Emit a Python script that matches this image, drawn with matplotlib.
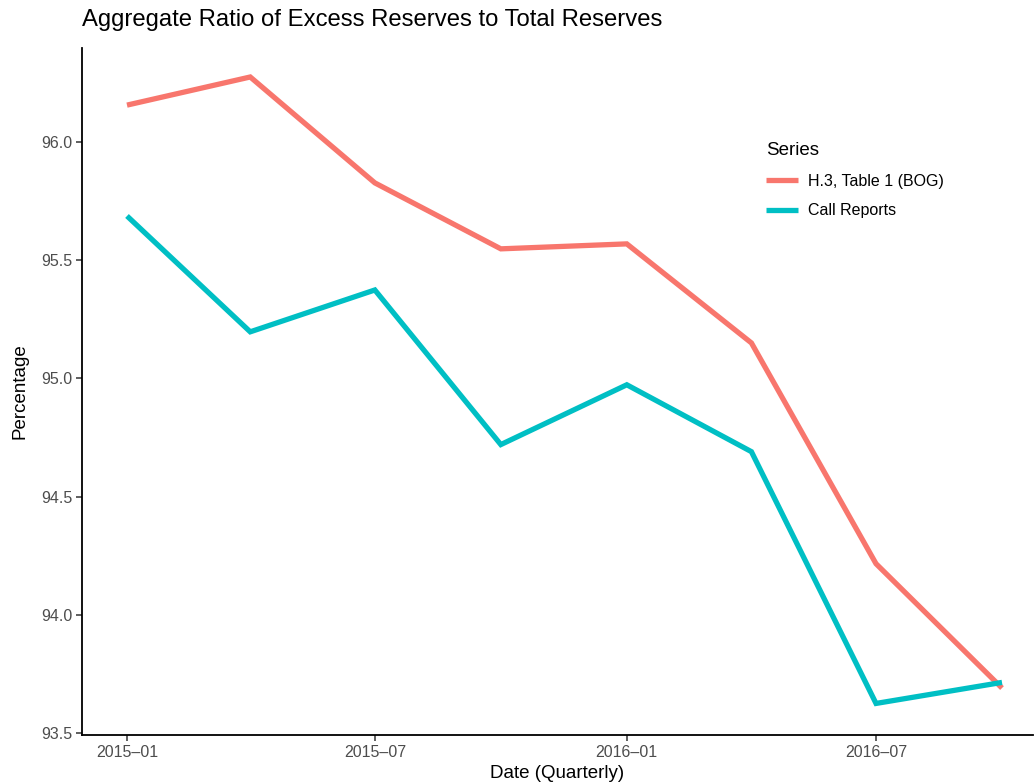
import matplotlib
matplotlib.use("Agg")
import matplotlib.pyplot as plt
import matplotlib.dates as mdates
import numpy as np
import datetime as dt

plt.rcParams['font.family'] = ['Liberation Sans', 'DejaVu Sans']

dates = ["2015-01-01", "2015-04-01", "2015-07-01", "2015-10-01",
         "2016-01-01", "2016-04-01", "2016-07-01", "2016-10-01"]
h3_values = [96.156, 96.275, 95.827, 95.548, 95.569, 95.150, 94.216, 93.690]
call_values = [95.687, 95.197, 95.374, 94.720, 94.973, 94.690, 93.625, 93.714]
series_names = ["H.3, Table 1 (BOG)", "Call Reports"]
series_colors = ["#F8766D", "#00BFC4"]
x_tick_dates = ["2015-01-01", "2015-07-01", "2016-01-01", "2016-07-01"]
x_tick_labels = ["2015\u201301", "2015\u201307", "2016\u201301", "2016\u201307"]
y_ticks = [93.5, 94.0, 94.5, 95.0, 95.5, 96.0]

x = [dt.datetime.strptime(d, "%Y-%m-%d") for d in dates]

fig = plt.figure(figsize=(10.36, 7.84), dpi=100)
W, H = 1036, 784
left_px, right_px, top_px, bottom_px = 82, 1033, 48, 735
ax = fig.add_axes([left_px / W, 1 - bottom_px / H, (right_px - left_px) / W, (bottom_px - top_px) / H])

for vals, name, col in zip([h3_values, call_values], series_names, series_colors):
    ax.plot(x, vals, color=col, lw=3.8, label=name, solid_capstyle='butt', solid_joinstyle='miter')

# x limits so first point at px 127 and last at px 1002
x0 = mdates.date2num(x[0]); x1 = mdates.date2num(x[-1])
dpp = (x1 - x0) / (1002 - 127)
ax.set_xlim(x0 - (127 - left_px) * dpp, x1 + (right_px - 1002) * dpp)
ax.set_ylim(93.4915, 96.3976)

ax.set_xticks([mdates.date2num(dt.datetime.strptime(d, "%Y-%m-%d")) for d in x_tick_dates])
ax.set_xticklabels(x_tick_labels)
ax.set_yticks(y_ticks)
ax.set_yticklabels([f"{v:.1f}" for v in y_ticks])

for s in ['top', 'right']:
    ax.spines[s].set_visible(False)
for s in ['left', 'bottom']:
    ax.spines[s].set_linewidth(1.3)
    ax.spines[s].set_color('black')
ax.tick_params(axis='both', length=4, width=1.1, color='#333333', labelcolor='#4D4D4D', labelsize=11.5, pad=3)

ax.set_xlabel("Date (Quarterly)", fontsize=13.5, labelpad=4)
ax.set_ylabel("Percentage", fontsize=13.5, labelpad=9)
fig.text(82 / W, 1 - 20 / H, "Aggregate Ratio of Excess Reserves to Total Reserves",
         fontsize=17.2, ha='left', va='center')

leg = ax.legend(loc='upper left', bbox_to_anchor=(760 / W, 1 - 136 / H), bbox_transform=fig.transFigure,
                frameon=False, title="Series", fontsize=11.5, title_fontsize=13.5,
                handlelength=2.0, handletextpad=0.6, labelspacing=0.9, borderaxespad=0)
leg._legend_box.align = "left"

fig.savefig("out.png", dpi=100)
